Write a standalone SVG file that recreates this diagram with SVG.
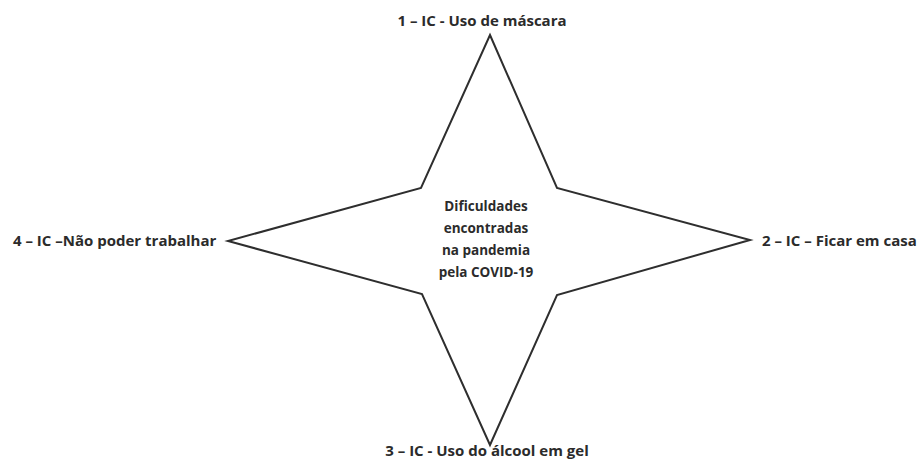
<svg xmlns="http://www.w3.org/2000/svg" width="920" height="466" viewBox="0 0 920 466">
<style>
.lbl{font-family:"Open Sans","Liberation Sans",sans-serif;font-weight:700;font-size:15px;fill:#2b2b2b}
.ctr{font-family:"Open Sans","Liberation Sans",sans-serif;font-weight:700;font-size:13.5px;fill:#2b2b2b;text-anchor:middle}
.star{fill:#fff;stroke:#2e2e2e;stroke-width:2;stroke-linejoin:miter}
</style>
<rect width="920" height="466" fill="#fff"/>
<g id="star">
<polygon class="star" points="490,35 557,188 750,240 557,295 490,445 422,294 228,241 421,188"/>
<text class="ctr" x="486" y="211">Dificuldades</text>
<text class="ctr" x="486" y="233">encontradas</text>
<text class="ctr" x="486" y="255">na pandemia</text>
<text class="ctr" x="486" y="277">pela COVID-19</text>
</g>
<g id="n1"><text class="lbl" x="482" y="26" text-anchor="middle">1 – IC - Uso de máscara</text></g>
<g id="n2"><text class="lbl" x="762" y="246">2 – IC – Ficar em casa</text></g>
<g id="n3"><text class="lbl" x="487" y="456" text-anchor="middle">3 – IC - Uso do álcool em gel</text></g>
<g id="n4"><text class="lbl" x="13" y="246">4 – IC –Não poder trabalhar</text></g>
</svg>
